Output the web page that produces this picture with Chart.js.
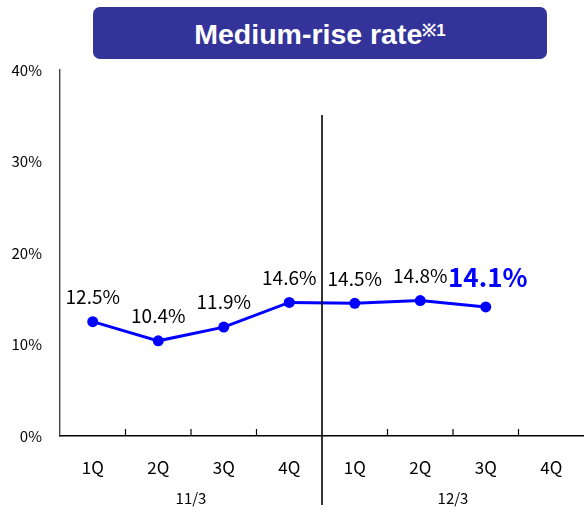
<!DOCTYPE html>
<html>
<head>
<meta charset="utf-8">
<script src="https://cdn.jsdelivr.net/npm/chart.js@4/dist/chart.umd.min.js"></script>
<style>
  body { margin: 0; background: #fff; }
  #wrap { position: relative; width: 584px; height: 510px; }
  #title {
    position: absolute; left: 93px; top: 7px; width: 454px; height: 52px;
    background: #333399; border-radius: 7px; color: #fff;
    font: bold 28.5px "Liberation Sans", Arial, sans-serif;
    text-align: center; line-height: 54px;
  }
  #title .note { font-size: 17px; vertical-align: 8px; line-height: 10px; }
</style>
</head>
<body>
<div id="wrap">
  <canvas id="chart-box" width="584" height="510"></canvas>
  <div id="title">Medium-rise rate<span class="note">※1</span></div>
</div>
<script>
const quarters = ["1Q", "2Q", "3Q", "4Q", "1Q", "2Q", "3Q", "4Q"];
const periods = ["11/3", "12/3"];
const riseRate = [12.5, 10.4, 11.9, 14.6, 14.5, 14.8, 14.1, null];
const yTicks = [0, 10, 20, 30, 40];

const JP_FONT = '"Noto Sans CJK JP", "DejaVu Sans", sans-serif';
const latest = 6; // most recent quarter gets the big blue label

// small upward ticks between quarters, the period divider and period names
const axisDeco = {
  id: "axisDeco",
  afterDraw(chart) {
    const ctx = chart.ctx;
    const x = chart.scales.x;
    const area = chart.chartArea;
    const perGroup = quarters.length / periods.length;
    ctx.save();
    ctx.strokeStyle = "#000";
    for (let i = 0; i < quarters.length - 1; i++) {
      const bx = (x.getPixelForValue(i) + x.getPixelForValue(i + 1)) / 2;
      ctx.beginPath();
      if ((i + 1) % perGroup == 0) {
        ctx.lineWidth = 1.6;
        ctx.moveTo(bx, 115);
        ctx.lineTo(bx, 505);
      } else {
        ctx.lineWidth = 1.2;
        ctx.moveTo(bx, area.bottom);
        ctx.lineTo(bx, area.bottom - 7);
      }
      ctx.stroke();
    }
    ctx.fillStyle = "#000";
    ctx.font = "15px " + JP_FONT;
    ctx.textAlign = "center";
    ctx.textBaseline = "middle";
    periods.forEach(function (p, g) {
      const first = x.getPixelForValue(g * perGroup);
      const last = x.getPixelForValue(g * perGroup + perGroup - 1);
      ctx.fillText(p, (first + last) / 2, 498);
    });
    ctx.restore();
  },
};

// value labels above each point
const pointLabels = {
  id: "pointLabels",
  afterDatasetsDraw(chart) {
    const ctx = chart.ctx;
    const meta = chart.getDatasetMeta(0);
    ctx.save();
    ctx.textAlign = "center";
    ctx.textBaseline = "middle";
    meta.data.forEach(function (pt, i) {
      const v = riseRate[i];
      if (v == null) return;
      if (i == latest) {
        ctx.fillStyle = "#0000ff";
        ctx.font = "bold 26px " + JP_FONT;
        ctx.fillText(v.toFixed(1) + "%", pt.x + 2, pt.y - 30);
      } else {
        ctx.fillStyle = "#000";
        ctx.font = "19px " + JP_FONT;
        ctx.fillText(v.toFixed(1) + "%", pt.x, pt.y - 25);
      }
    });
    ctx.restore();
  },
};

const ctx = document.getElementById("chart-box").getContext("2d");
const chart = new Chart(ctx, {
  type: "line",
  data: {
    labels: quarters,
    datasets: [
      {
        data: riseRate,
        borderColor: "#0000ff",
        backgroundColor: "#0000ff",
        borderWidth: 3,
        pointRadius: 5.5,
        pointBorderWidth: 0,
        tension: 0,
        spanGaps: false,
      },
    ],
  },
  options: {
    responsive: false,
    animation: false,
    layout: {
      autoPadding: false,
      padding: { top: 70, right: 0, left: 0, bottom: 0 },
    },
    plugins: {
      legend: { display: false },
      tooltip: { enabled: false },
    },
    scales: {
      x: {
        offset: true,
        grid: { display: false, drawTicks: false },
        border: { display: true, color: "#000", width: 1.6 },
        ticks: {
          color: "#000",
          padding: 21,
          font: { family: JP_FONT, size: 17 },
        },
        afterFit: function (scale) {
          scale.height = 74;
          scale.paddingLeft = 0;
          scale.paddingRight = 0;
        },
      },
      y: {
        min: 0,
        max: 40,
        grid: { display: false, drawTicks: false },
        border: { display: true, color: "#444", width: 1.4 },
        afterBuildTicks: function (scale) {
          scale.ticks = yTicks.map(function (v) { return { value: v }; });
        },
        ticks: {
          color: "#000",
          padding: 18,
          font: { family: JP_FONT, size: 15 },
          callback: function (v) {
            return v + "%";
          },
        },
        afterFit: function (scale) {
          scale.width = 60;
        },
      },
    },
  },
  plugins: [axisDeco, pointLabels],
});
</script>
</body>
</html>
